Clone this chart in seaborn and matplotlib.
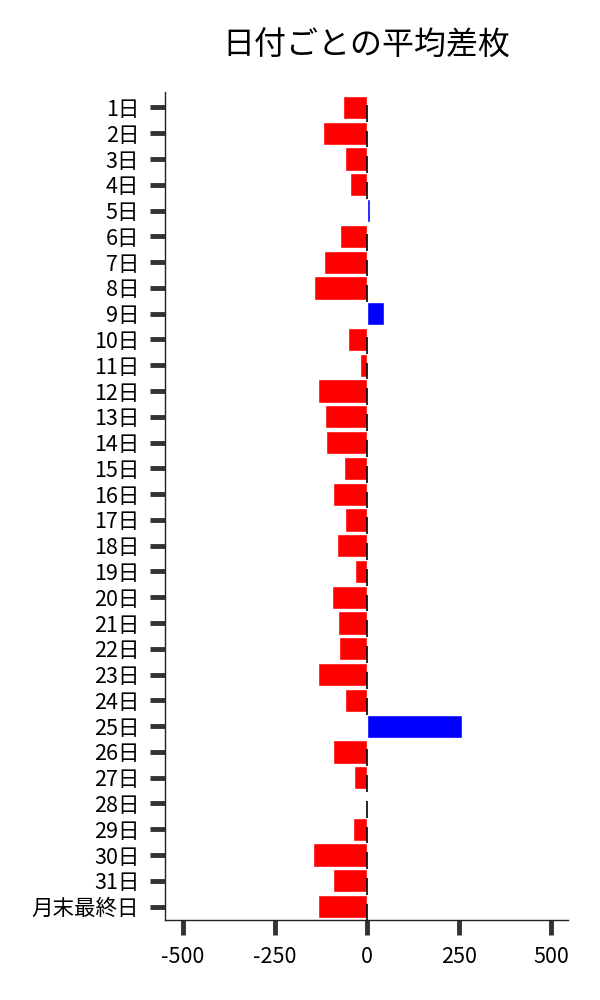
import numpy as np
import pandas as pd
import matplotlib
matplotlib.use('Agg')
import matplotlib.pyplot as plt
import seaborn as sns

# データ
days = [f'{i}日' for i in range(1, 32)] + ['月末最終日']
avg_diff = [-65, -120, -60, -46, 8, -73, -117, -144, 46, -52,
            -19, -133, -114, -111, -62, -92, -60, -82, -33, -95,
            -79, -76, -133, -60, 258, -92, -35, 1, -38, -147,
            -92, -133]

df = pd.DataFrame({'day': days, 'diff': avg_diff})
df['sign'] = np.where(df['diff'] >= 0, 'pos', 'neg')

sns.set_style('ticks')
plt.rcParams['font.family'] = ['Noto Sans CJK JP', 'DejaVu Sans']
plt.rcParams['text.color'] = 'black'
plt.rcParams['xtick.color'] = 'black'
plt.rcParams['ytick.color'] = 'black'

fig, ax = plt.subplots(figsize=(6, 10), dpi=100)
fig.subplots_adjust(left=0.275, right=0.947, bottom=0.08, top=0.908)

sns.barplot(data=df, x='diff', y='day', hue='sign', orient='h',
            palette={'neg': '#ff0000', 'pos': '#0000ff'}, saturation=1,
            dodge=False, width=0.9, legend=False, ax=ax)

# 0付近の細い黒線
idx = np.arange(len(days))
neg = df['diff'].values < 5
ax.vlines(np.zeros(neg.sum()), idx[neg] - 0.1, idx[neg] + 0.55,
          color='black', linewidth=1.2, zorder=5)

ax.set_xlim(-548, 547)
ax.set_ylim(len(days) - 0.48, -0.6)
ax.set_xticks([-500, -250, 0, 250, 500])
ax.set_xticklabels(['-500', '-250', '0', '250', '500'])
ax.set_xlabel('')
ax.set_ylabel('')
ax.tick_params(axis='both', length=10.5, width=3.5, color='#333333',
               labelcolor='black', labelsize=15.5, pad=8)
sns.despine(ax=ax)
for s in ['left', 'bottom']:
    ax.spines[s].set_color('#222222')
    ax.spines[s].set_linewidth(1)

ax.set_title('日付ごとの平均差枚', fontsize=23, pad=27, color='black')

plt.savefig('out.png', dpi=100)
